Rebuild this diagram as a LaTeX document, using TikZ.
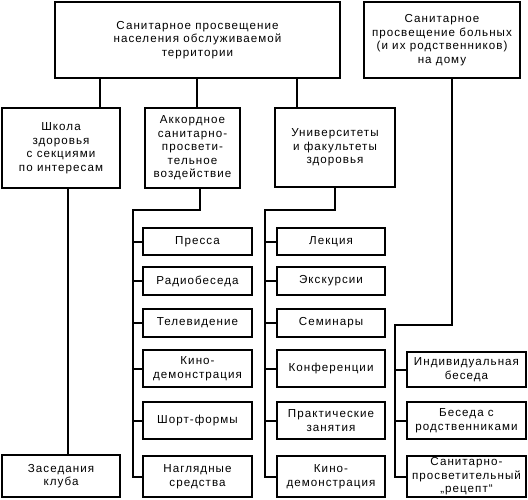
\documentclass[tikz,border=0pt]{standalone}
\usepackage{fontspec}
\setmainfont{Liberation Sans}[LetterSpace=9]
\begin{document}
\begin{tikzpicture}[x=1pt,y=-1pt,
  every node/.style={font=\fontsize{11.6}{13.5}\selectfont, align=center, inner sep=0pt},
  bigbox/.style={draw, line width=1.9pt, minimum width=#1},
  smallbox/.style={draw, line width=1.1pt, minimum width=#1},
  conn/.style={line width=2pt}]
\useasboundingbox (0,0) rectangle (528,499);
% top level
\node[bigbox=285, minimum height=76] (top) at (197.5,40) {Санитарное просвещение\\населения обслуживаемой\\территории};
\node[bigbox=156, minimum height=76] (home) at (442,40) {Санитарное\\просвещение больных\\(и их родственников)\\на дому};
% second level
\node[bigbox=118, minimum height=80] (school) at (61,148) {Школа\\здоровья\\с секциями\\по интересам};
\node[bigbox=95, minimum height=80] (akk) at (192.5,148) {Аккордное\\санитарно-\\просвети-\\тельное\\воздействие};
\node[bigbox=120, minimum height=79] (univ) at (335,147.5) {Университеты\\и факультеты\\здоровья};
\node[smallbox=118, minimum height=42] (club) at (61,476) {Заседания\\клуба};
% column 1
\node[smallbox=109, minimum height=27] (a1) at (197.5,241.5) {Пресса};
\node[smallbox=109, minimum height=28] (a2) at (197.5,281) {Радиобеседа};
\node[smallbox=109, minimum height=28] (a3) at (197.5,323) {Телевидение};
\node[smallbox=109, minimum height=37] (a4) at (197.5,368.5) {Кино-\\демонстрация};
\node[smallbox=109, minimum height=37] (a5) at (197.5,420.5) {Шорт-формы};
\node[smallbox=109, minimum height=41] (a6) at (197.5,476.5) {Наглядные\\средства};
% column 2
\node[smallbox=108, minimum height=27] (b1) at (331,241.5) {Лекция};
\node[smallbox=108, minimum height=28] (b2) at (331,281) {Экскурсии};
\node[smallbox=108, minimum height=28] (b3) at (331,323) {Семинары};
\node[smallbox=108, minimum height=37] (b4) at (331,368.5) {Конференции};
\node[smallbox=108, minimum height=37] (b5) at (331,420.5) {Практические\\занятия};
\node[smallbox=108, minimum height=41] (b6) at (331,476.5) {Кино-\\демонстрация};
% column 3
\node[smallbox=119, minimum height=35] (c1) at (466.5,369.5) {Индивидуальная\\беседа};
\node[smallbox=119, minimum height=37] (c2) at (466.5,420.5) {Беседа с\\родственниками};
\node[smallbox=119, minimum height=41] (c3) at (466.5,476.5) {Санитарно-\\просветительный\\„рецепт“};
% helper coordinates
\coordinate (x100) at (100,0);
\coordinate (x197) at (197,0);
\coordinate (x297) at (297,0);
\coordinate (x68) at (68,0);
\coordinate (x452) at (452,0);
\coordinate (x200) at (200,0);
\coordinate (busA) at (133,210);
\coordinate (busB) at (265,210);
\coordinate (turnC) at (452,325);
\coordinate (busC) at (395,325);
% connectors
\draw[conn] (top.south -| x100) -- (school.north -| x100);
\draw[conn] (top.south -| x197) -- (akk.north -| x197);
\draw[conn] (top.south -| x297) -- (univ.north -| x297);
\draw[conn] (school.south -| x68) -- (club.north -| x68);
\draw[conn] (akk.south -| x200) -- (busA -| x200) -- (busA) -- (busA |- a6.west) -- (a6.west);
\foreach \n in {a1,a2,a3,a4,a5} \draw[conn] (busA |- \n.west) -- (\n.west);
\draw[conn] (univ.south) -- (busB -| univ.south) -- (busB) -- (busB |- b6.west) -- (b6.west);
\foreach \n in {b1,b2,b3,b4,b5} \draw[conn] (busB |- \n.west) -- (\n.west);
\draw[conn] (home.south -| x452) -- (turnC) -- (busC) -- (busC |- c3.west) -- (c3.west);
\foreach \n in {c1,c2} \draw[conn] (busC |- \n.west) -- (\n.west);
\end{tikzpicture}
\end{document}
